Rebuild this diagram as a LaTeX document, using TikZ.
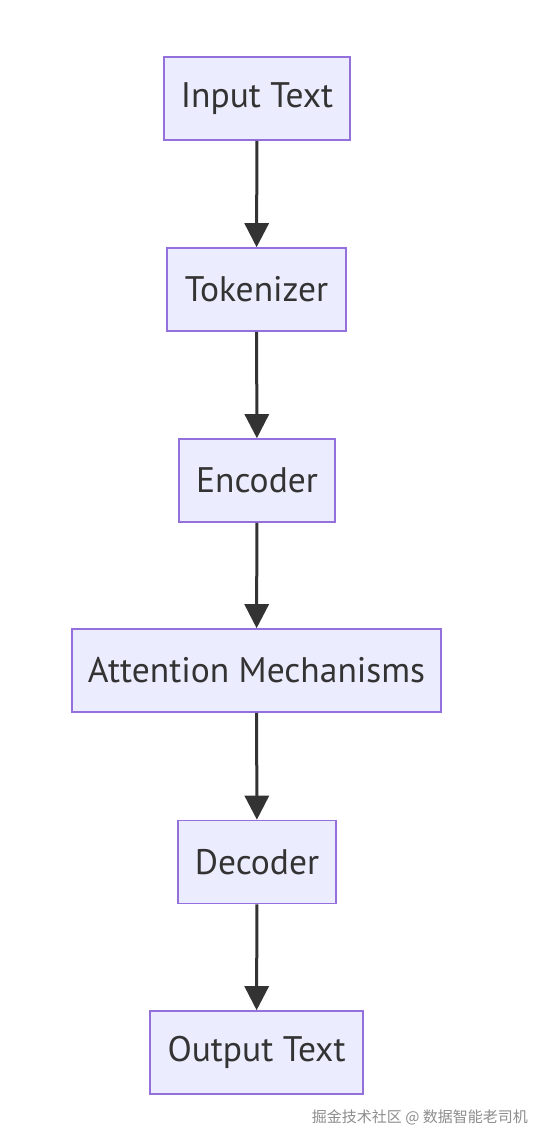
\documentclass[tikz,border=0pt]{standalone}
\usepackage{fontspec}
\setmainfont{PT Sans}
\newfontfamily\cjk{Noto Sans CJK SC}
\usetikzlibrary{arrows.meta}
\definecolor{nodefill}{HTML}{ECECFF}
\definecolor{nodeborder}{HTML}{9370DB}
\definecolor{edgecol}{HTML}{333333}
\begin{document}
\begin{tikzpicture}[x=1pt,y=-1pt,
  box/.style={draw=nodeborder,fill=nodefill,line width=1.6pt,inner sep=0pt,
    minimum height=83pt,text=edgecol,font=\fontsize{35.5}{40}\selectfont},
  flow/.style={draw=edgecol,line width=3pt,-{Triangle[length=24pt,width=24pt]},shorten >=0pt}]
\useasboundingbox (0,0) rectangle (545,1144);
\node[box,minimum width=186pt] (in) at (257,98.5) {Input Text};
\node[box,minimum width=179pt] (tok) at (256.5,289.5) {Tokenizer};
\node[box,minimum width=156pt] (enc) at (257,480.5) {Encoder};
\node[box,minimum width=369pt] (att) at (256.5,670.5) {Attention Mechanisms};
\node[box,minimum width=158pt] (dec) at (257,862) {Decoder};
\node[box,minimum width=213pt] (out) at (256.5,1052.5) {Output Text};
\draw[flow] (in) -- (tok);
\draw[flow] (tok) -- (enc);
\draw[flow] (enc) -- (att);
\draw[flow] (att) -- (dec);
\draw[flow] (dec) -- (out);
\node[anchor=east,text=black!45,font=\cjk\fontsize{15}{18}\selectfont,inner sep=0pt] (wm) at (528,1117) {掘金技术社区 @ 数据智能老司机};
\end{tikzpicture}
\end{document}
